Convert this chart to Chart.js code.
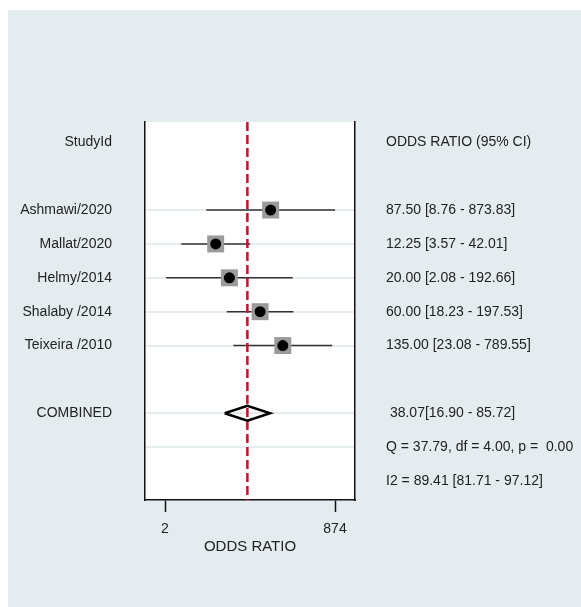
<!DOCTYPE html>
<html>
<head>
<meta charset="utf-8">
<title>Forest plot</title>
<script src="https://cdn.jsdelivr.net/npm/chart.js@4.4.0/dist/chart.umd.min.js"></script>
<style>
  html, body { margin: 0; padding: 0; background: #fff; }
  #wrap { position: absolute; left: 8px; top: 10px; width: 573px; height: 597px; background: #e4ecf0; }
</style>
</head>
<body>
<div id="wrap"><canvas id="forest"></canvas></div>
<script>
// study data
const studies = ["Ashmawi/2020", "Mallat/2020", "Helmy/2014", "Shalaby /2014", "Teixeira /2010"];
const oddsRatio = [87.50, 12.25, 20.00, 60.00, 135.00];
const lowerCI = [8.76, 3.57, 2.08, 18.23, 23.08];
const upperCI = [873.83, 42.01, 192.66, 197.53, 789.55];

// pooled estimate
const pooledOR = 38.07;
const pooledLower = 16.90;
const pooledUpper = 85.72;
const heterogeneity = ["Q = 37.79, df = 4.00, p =  0.00", "I2 = 89.41 [81.71 - 97.12]"];

const xTicks = [2, 874];

// row layout (0 = header at top)
const studyRows = [2, 3, 4, 5, 6];
const pooledRow = 8;
const gridRows = [2, 3, 4, 5, 6, 8, 9];
const allRows = [0, 1, 2, 3, 4, 5, 6, 7, 8, 9, 10];
const yMin = -0.6, yMax = 10.56;

const fmt = v => v.toFixed(2);
const leftLabels = {0: "StudyId", 8: "COMBINED"};
const rightLabels = {0: "ODDS RATIO (95% CI)", 9: heterogeneity[0], 10: heterogeneity[1]};
studies.forEach((s, i) => {
  leftLabels[studyRows[i]] = s;
  rightLabels[studyRows[i]] = fmt(oddsRatio[i]) + " [" + fmt(lowerCI[i]) + " - " + fmt(upperCI[i]) + "]";
});
rightLabels[pooledRow] = " " + fmt(pooledOR) + "[" + fmt(pooledLower) + " - " + fmt(pooledUpper) + "]";

Chart.defaults.font.family = "'Liberation Sans', Arial, sans-serif";
Chart.defaults.font.size = 14;
Chart.defaults.color = "#222";

const datasets = [];
studies.forEach((s, i) => {
  datasets.push({
    data: [{x: lowerCI[i], y: studyRows[i]}, {x: upperCI[i], y: studyRows[i]}],
    showLine: true, borderColor: "#333", borderWidth: 1.5, pointRadius: 0, order: 6
  });
});
datasets.push({
  data: [{x: pooledOR, y: yMin}, {x: pooledOR, y: yMax}],
  showLine: true, borderColor: "#c8102e", borderWidth: 2.5, borderDash: [9, 4],
  pointRadius: 0, order: 5
});
datasets.push({
  data: oddsRatio.map((v, i) => ({x: v, y: studyRows[i]})),
  pointStyle: "rect", pointRadius: 12, backgroundColor: "#9b9b9b", borderWidth: 0, order: 3
});
datasets.push({
  data: oddsRatio.map((v, i) => ({x: v, y: studyRows[i]})),
  pointStyle: "circle", pointRadius: 5.5, backgroundColor: "#000", borderWidth: 0, order: 2
});
const dh = 0.22;
datasets.push({
  data: [
    {x: pooledLower, y: pooledRow}, {x: pooledOR, y: pooledRow - dh},
    {x: pooledUpper, y: pooledRow}, {x: pooledOR, y: pooledRow + dh},
    {x: pooledLower, y: pooledRow}
  ],
  showLine: true, borderColor: "#000", borderWidth: 2.5, pointRadius: 0, fill: false, order: 1
});

const whiteArea = {
  id: "whiteArea",
  beforeDraw(chart) {
    const {ctx, chartArea: a} = chart;
    ctx.save();
    ctx.fillStyle = "#fff";
    ctx.fillRect(a.left, a.top, a.right - a.left, a.bottom - a.top);
    ctx.restore();
  }
};

const rowTicks = scale => { scale.ticks = allRows.map(v => ({value: v})); };

new Chart(document.getElementById("forest"), {
  type: "scatter",
  data: {datasets: datasets},
  plugins: [whiteArea],
  options: {
    responsive: true,
    maintainAspectRatio: false,
    animation: false,
    layout: {padding: {top: 112, left: 0, right: 0, bottom: 0}},
    plugins: {legend: {display: false}, tooltip: {enabled: false}},
    scales: {
      x: {
        type: "logarithmic",
        position: "bottom",
        min: 0.978, max: 1787,
        bounds: "data",
        afterBuildTicks: scale => { scale.ticks = xTicks.map(v => ({value: v})); },
        afterFit: scale => { scale.height = 107; },
        ticks: {callback: v => String(v), autoSkip: false, maxRotation: 0, padding: 9, color: "#222"},
        grid: {drawOnChartArea: false, drawTicks: true, tickLength: 12, tickColor: "#111", tickWidth: 1.5},
        border: {color: "#111", width: 1.5},
        title: {display: true, text: "ODDS RATIO", font: {size: 15}, color: "#222", padding: {top: 0, bottom: 51}}
      },
      y: {
        type: "linear",
        position: "left",
        reverse: true,
        min: yMin, max: yMax,
        bounds: "data",
        afterBuildTicks: rowTicks,
        afterFit: scale => { scale.width = 137; },
        ticks: {callback: v => leftLabels[v] || "", autoSkip: false, padding: 33, color: "#222"},
        grid: {
          drawTicks: false,
          lineWidth: 2,
          color: c => gridRows.includes(c.tick && c.tick.value) ? "#e4ecf0" : "rgba(0,0,0,0)"
        },
        border: {color: "#111", width: 1.5}
      },
      yR: {
        type: "linear",
        position: "right",
        reverse: true,
        min: yMin, max: yMax,
        bounds: "data",
        afterBuildTicks: rowTicks,
        afterFit: scale => { scale.width = 226; },
        ticks: {callback: v => rightLabels[v] || "", autoSkip: false, padding: 31, color: "#222"},
        grid: {display: false, drawTicks: false},
        border: {color: "#111", width: 1.5}
      }
    }
  }
});
</script>
</body>
</html>
